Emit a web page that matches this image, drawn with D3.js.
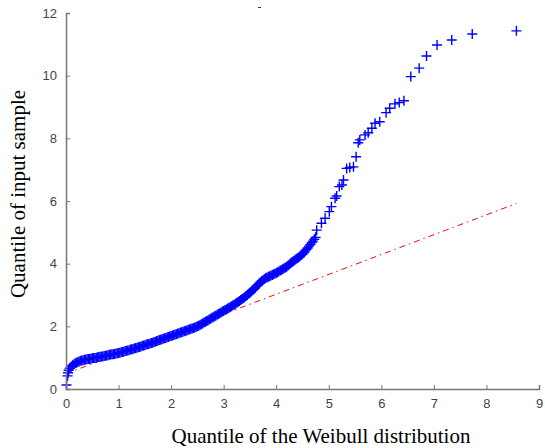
<!DOCTYPE html>
<html>
<head>
<meta charset="utf-8">
<script src="https://cdn.jsdelivr.net/npm/d3@7"></script>
<style>
  body { margin: 0; background: #fff; }
  .tick text { font-family: "Liberation Sans", Arial, sans-serif; }
</style>
</head>
<body>
<div id="main"></div>
<script>
const ctx = {
    w: 545,
    h: 448,
    left: 66, right: 539, top: 13, bottom: 389
};

// lower end of the sample (theoretical quantile, sample quantile)
const headX = [0.01, 0.03, 0.04, 0.05, 0.07];
const headY = [0.13, 0.42, 0.52, 0.60, 0.66];

// dense body of the curve
const bodyX = [0.100, 0.125, 0.150, 0.175, 0.200, 0.225, 0.250, 0.275, 0.300, 0.325, 0.350, 0.375,
  0.400, 0.425, 0.450, 0.475, 0.500, 0.525, 0.550, 0.575, 0.600, 0.625, 0.650, 0.675, 0.700, 0.725,
  0.750, 0.775, 0.800, 0.825, 0.850, 0.875, 0.900, 0.925, 0.950, 0.975, 1.000, 1.025, 1.050, 1.075,
  1.100, 1.125, 1.150, 1.175, 1.200, 1.225, 1.250, 1.275, 1.300, 1.325, 1.350, 1.375, 1.400, 1.425,
  1.450, 1.475, 1.500, 1.525, 1.550, 1.575, 1.600, 1.625, 1.650, 1.675, 1.700, 1.725, 1.750, 1.775,
  1.800, 1.825, 1.850, 1.875, 1.900, 1.925, 1.950, 1.975, 2.000, 2.025, 2.050, 2.075, 2.100, 2.125,
  2.150, 2.175, 2.200, 2.225, 2.250, 2.275, 2.300, 2.325, 2.350, 2.375, 2.400, 2.425, 2.450, 2.475,
  2.500, 2.525, 2.550, 2.575, 2.600, 2.625, 2.650, 2.675, 2.700, 2.725, 2.750, 2.775, 2.800, 2.825,
  2.850, 2.875, 2.900, 2.925, 2.950, 2.975, 3.000, 3.025, 3.050, 3.075, 3.100, 3.125, 3.150, 3.175,
  3.200, 3.225, 3.250, 3.275, 3.300, 3.325, 3.350, 3.375, 3.400, 3.425, 3.450, 3.475, 3.500, 3.525,
  3.550, 3.575, 3.600, 3.625, 3.650, 3.675, 3.700, 3.725, 3.750, 3.775, 3.800, 3.825, 3.850, 3.875,
  3.900, 3.925, 3.950, 3.975, 4.000, 4.025, 4.050, 4.075, 4.100, 4.125, 4.150, 4.175, 4.200, 4.225,
  4.250, 4.275, 4.300, 4.325, 4.350, 4.375, 4.400, 4.425, 4.450, 4.475, 4.500, 4.525, 4.550, 4.575,
  4.600, 4.625, 4.650, 4.675, 4.700, 4.725, 4.750];
const bodyY = [0.72, 0.76, 0.79, 0.82, 0.84, 0.86, 0.88, 0.90, 0.91, 0.92, 0.93, 0.94,
  0.95, 0.96, 0.96, 0.97, 0.98, 0.99, 0.99, 1.00, 1.01, 1.02, 1.03, 1.04, 1.04, 1.05,
  1.06, 1.07, 1.08, 1.09, 1.10, 1.11, 1.11, 1.12, 1.13, 1.14, 1.15, 1.16, 1.17, 1.18,
  1.19, 1.21, 1.22, 1.23, 1.24, 1.26, 1.27, 1.28, 1.29, 1.31, 1.32, 1.33, 1.34, 1.36,
  1.37, 1.39, 1.40, 1.42, 1.43, 1.44, 1.45, 1.47, 1.48, 1.50, 1.51, 1.53, 1.54, 1.56,
  1.57, 1.59, 1.60, 1.62, 1.63, 1.65, 1.66, 1.68, 1.69, 1.71, 1.72, 1.74, 1.75, 1.77,
  1.78, 1.80, 1.81, 1.83, 1.84, 1.86, 1.87, 1.89, 1.90, 1.92, 1.93, 1.95, 1.96, 1.98,
  2.00, 2.02, 2.04, 2.07, 2.09, 2.12, 2.14, 2.17, 2.19, 2.22, 2.24, 2.27, 2.29, 2.32,
  2.34, 2.37, 2.39, 2.42, 2.44, 2.47, 2.49, 2.52, 2.54, 2.57, 2.59, 2.62, 2.64, 2.67,
  2.69, 2.72, 2.75, 2.78, 2.81, 2.84, 2.87, 2.90, 2.93, 2.97, 3.00, 3.04, 3.07, 3.11,
  3.15, 3.19, 3.23, 3.28, 3.32, 3.37, 3.41, 3.45, 3.48, 3.51, 3.54, 3.56, 3.58, 3.60,
  3.62, 3.64, 3.66, 3.68, 3.70, 3.73, 3.75, 3.78, 3.80, 3.83, 3.85, 3.88, 3.90, 3.94,
  3.97, 4.01, 4.05, 4.08, 4.11, 4.14, 4.17, 4.20, 4.23, 4.27, 4.30, 4.35, 4.40, 4.45,
  4.50, 4.56, 4.61, 4.67, 4.72, 4.78, 4.84];

// sparse upper tail
const tailX = [4.77, 4.86, 4.93, 5.01, 5.05, 5.12, 5.15, 5.20, 5.25, 5.28, 5.34, 5.40, 5.47, 5.52,
  5.56, 5.59, 5.69, 5.75, 5.82, 5.88, 5.97, 6.09, 6.16, 6.26, 6.34, 6.43,
  6.56, 6.72, 6.86, 7.06, 7.34, 7.73, 8.57];
const tailY = [5.07, 5.29, 5.45, 5.66, 5.82, 6.09, 6.16, 6.46, 6.51, 6.67, 7.04, 7.07, 7.09, 7.41,
  7.86, 7.95, 8.11, 8.18, 8.32, 8.48, 8.53, 8.82, 8.96, 9.10, 9.14, 9.20,
  9.97, 10.24, 10.63, 10.98, 11.14, 11.33, 11.43];

// reference line end points
const refX = [0, 8.57];
const refY = [0.49, 5.92];

const xTicks = [0, 1, 2, 3, 4, 5, 6, 7, 8, 9];
const yTicks = [0, 2, 4, 6, 8, 10, 12];

const xTitle = "Quantile of the Weibull distribution";
const yTitle = "Quantile of input sample";

function createViz() {
    let svg = d3.select("#main").append("svg")
        .attr("width", ctx.w)
        .attr("height", ctx.h);

    let x = d3.scaleLinear().domain([0, 9]).range([ctx.left, ctx.right]);
    let y = d3.scaleLinear().domain([0, 12]).range([ctx.bottom, ctx.top]);

    // reference line, dash-dot red
    svg.append("line")
        .attr("x1", x(refX[0])).attr("y1", y(refY[0]))
        .attr("x2", x(refX[1])).attr("y2", y(refY[1]))
        .attr("stroke", "#ff0000")
        .attr("stroke-width", 1)
        .attr("stroke-dasharray", "6,4,1.5,4");

    // plus markers
    const xs = headX.concat(bodyX, tailX);
    const ys = headY.concat(bodyY, tailY);
    const pts = xs.map((v, i) => [v, ys[i]]);
    const r = 5;
    svg.append("g")
        .selectAll("path")
        .data(pts)
        .enter().append("path")
        .attr("d", d => {
            const px = x(d[0]), py = y(d[1]);
            return `M${px - r},${py}H${px + r}M${px},${py - r}V${py + r}`;
        })
        .attr("stroke", "#0000ff")
        .attr("stroke-width", 1.4)
        .attr("fill", "none");

    // axes
    let xAxis = d3.axisBottom(x).tickValues(xTicks).tickSize(-4).tickPadding(10).tickFormat(d3.format("d"));
    let yAxis = d3.axisLeft(y).tickValues(yTicks).tickSize(-4).tickPadding(9).tickFormat(d3.format("d"));

    let gx = svg.append("g").attr("transform", `translate(0,${ctx.bottom})`).call(xAxis);
    let gy = svg.append("g").attr("transform", `translate(${ctx.left},0)`).call(yAxis);

    [gx, gy].forEach(g => {
        g.select(".domain").attr("stroke", "#777").attr("stroke-width", 1.5);
        g.selectAll(".tick line").attr("stroke", "#777");
        g.selectAll(".tick text").attr("fill", "#444").style("font-size", "13px");
    });

    // titles
    svg.append("text")
        .attr("x", 321).attr("y", 442.5)
        .attr("text-anchor", "middle")
        .style("font-family", "'Liberation Serif', 'Times New Roman', serif")
        .style("font-size", "21px")
        .attr("fill", "#000")
        .text(xTitle);

    svg.append("text")
        .attr("transform", "translate(25,194) rotate(-90)")
        .attr("text-anchor", "middle")
        .style("font-family", "'Liberation Serif', 'Times New Roman', serif")
        .style("font-size", "21px")
        .attr("fill", "#000")
        .text(yTitle);

    // small stray mark above the plot
    svg.append("line")
        .attr("x1", 258).attr("y1", 7.5).attr("x2", 261).attr("y2", 7.5)
        .attr("stroke", "#333").attr("stroke-width", 1);
}

createViz();
</script>
</body>
</html>
